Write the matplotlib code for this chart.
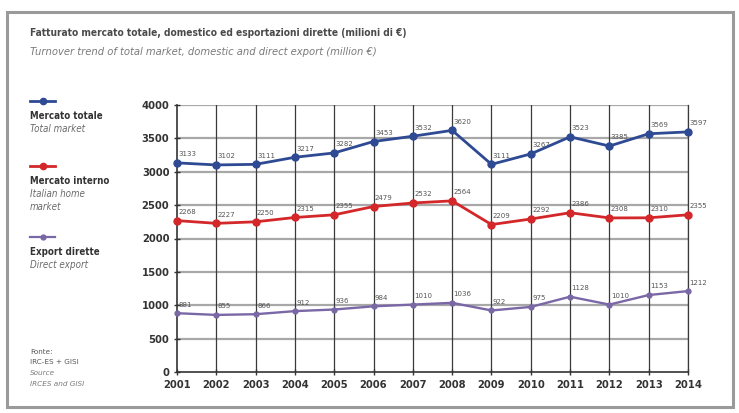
import matplotlib.pyplot as plt
from matplotlib.patches import Rectangle
from matplotlib.lines import Line2D

# Anni e fatturato (milioni di euro)
anni = list(range(2001, 2015))
mercato_totale = [3133, 3102, 3111, 3217, 3282, 3453, 3532, 3620, 3111, 3267, 3523, 3385, 3569, 3597]
mercato_interno = [2268, 2227, 2250, 2315, 2355, 2479, 2532, 2564, 2209, 2292, 2386, 2308, 2310, 2355]
export_dirette = [881, 855, 866, 912, 936, 984, 1010, 1036, 922, 975, 1128, 1010, 1153, 1212]
y_ticks = [0, 500, 1000, 1500, 2000, 2500, 3000, 3500, 4000]

blu = '#2e4a93'
rosso = '#d3272a'
viola = '#7a68a6'

W, H = 739, 413
fig = plt.figure(figsize=(W / 100, H / 100), dpi=100)
fig.patch.set_facecolor('white')

# cornice grigia attorno al grafico
fig.add_artist(Rectangle((7 / W, 6 / H), 726 / W, 395 / H, transform=fig.transFigure,
                         fill=False, edgecolor='#9a9a9a', linewidth=2.2))

fig.text(30 / W, 1 - 33 / H, 'Fatturato mercato totale, domestico ed esportazioni dirette (milioni di €)',
         fontsize=7.3, fontweight='heavy', color='#4a4a4a', fontstretch='condensed', va='center')
fig.text(30 / W, 1 - 52 / H, 'Turnover trend of total market, domestic and direct export (million €)',
         fontsize=8.0, style='italic', color='#7a7a7a', fontstretch='condensed', va='center')

ax = fig.add_axes([177 / W, 1 - 372 / H, (688 - 177) / W, (372 - 105) / H])
ax.set_xlim(2001, 2014)
ax.set_ylim(0, 4000)
ax.set_xticks(anni)
ax.set_yticks(y_ticks)
ax.tick_params(axis='both', direction='inout', length=5, width=1, colors='#333333',
               labelsize=7.2, pad=3)
for lab in ax.get_xticklabels() + ax.get_yticklabels():
    lab.set_fontweight('bold')
    lab.set_color('#333333')

for y in y_ticks[1:]:
    ax.axhline(y, color='#a8a8a8', linewidth=1.6, zorder=1)
for x in anni[1:]:
    ax.axvline(x, color='#3a3a3a', linewidth=0.9, zorder=1)
for side in ['left', 'bottom']:
    ax.spines[side].set_color('#333333')
    ax.spines[side].set_linewidth(1.2)
ax.spines['top'].set_visible(False)
ax.spines['right'].set_color('#3a3a3a')
ax.spines['right'].set_linewidth(0.9)

serie = [
    (mercato_totale, blu, 2.0, 5),
    (mercato_interno, rosso, 2.0, 5),
    (export_dirette, viola, 1.7, 3.5),
]
for valori, col, lw, ms in serie:
    ax.plot(anni, valori, color=col, linewidth=lw, marker='o', markersize=ms,
            zorder=3, clip_on=False)
    for x, v in zip(anni, valori):
        ax.annotate(str(v), (x, v), xytext=(1, 4), textcoords='offset points',
                    fontsize=5, color='#555555', ha='left', va='bottom', zorder=4)

# legenda a sinistra
def voce(y_px, col, lw, ms, righe):
    fig.add_artist(Line2D([30 / W, 55 / W], [1 - y_px / H] * 2, color=col, linewidth=lw,
                          transform=fig.transFigure))
    fig.add_artist(Line2D([42.5 / W], [1 - y_px / H], color=col, marker='o', markersize=ms,
                          transform=fig.transFigure))
    for i, (t, grassetto) in enumerate(righe):
        fig.text(30 / W, 1 - (y_px + 15 + i * 13) / H, t, fontsize=7,
                 fontweight='bold' if grassetto else 'normal',
                 style='normal' if grassetto else 'italic',
                 color='#333333' if grassetto else '#6a6a6a', va='center',
                 fontstretch='condensed')

voce(101, blu, 2.0, 4.5, [('Mercato totale', True), ('Total market', False)])
voce(166, rosso, 2.0, 4.5, [('Mercato interno', True), ('Italian home', False), ('market', False)])
voce(237, viola, 1.6, 3.5, [('Export dirette', True), ('Direct export', False)])

fonte = [('Fonte:', '#555555', 'normal'), ('IRC-ES + GISI', '#555555', 'normal'),
         ('Source', '#7a7a7a', 'italic'), ('IRCES and GISI', '#7a7a7a', 'italic')]
for i, (t, col, st) in enumerate(fonte):
    fig.text(30 / W, 1 - (352 + i * 10.5) / H, t, fontsize=5.2, color=col, style=st, va='center')

fig.savefig('out.png', dpi=100)
